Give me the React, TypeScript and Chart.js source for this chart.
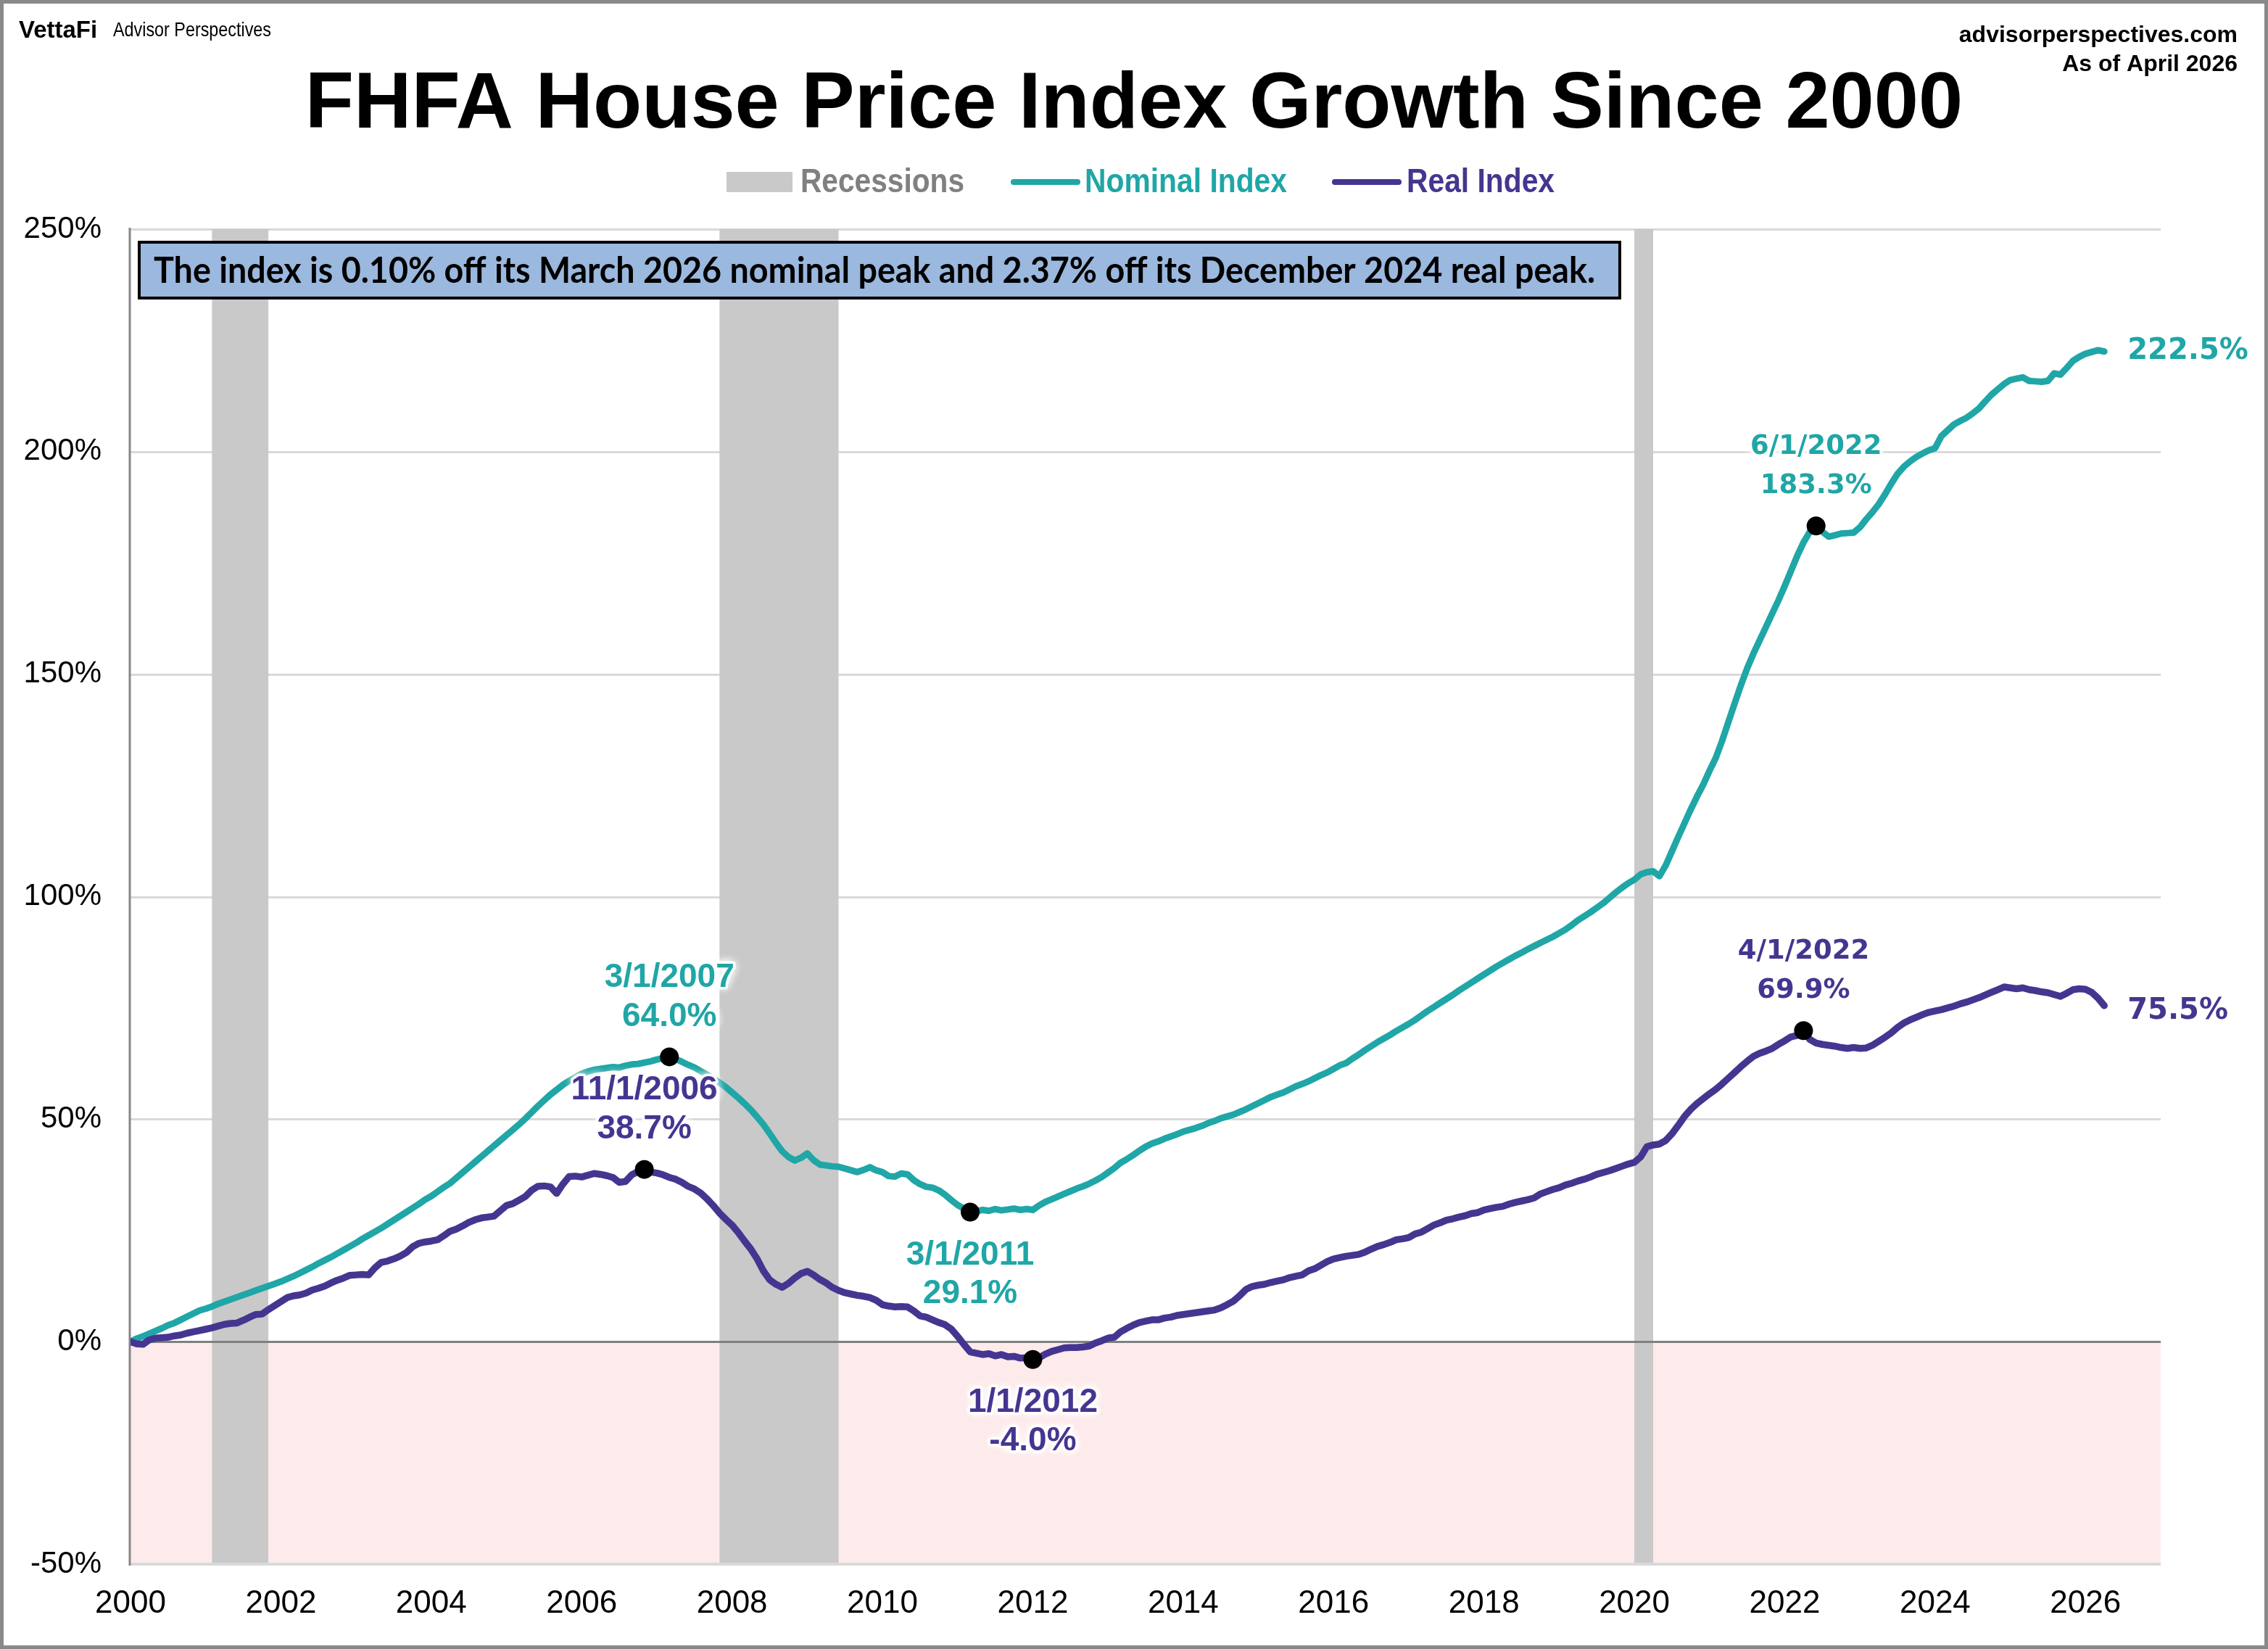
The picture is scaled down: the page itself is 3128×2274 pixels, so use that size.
import React, { useEffect, useRef } from 'react';
import { Chart, registerables } from 'chart.js';

Chart.register(...registerables);

const W = 3128;
const H = 2274;

const START_YEAR = 2000;

// Nominal FHFA HPI growth since Jan 2000 (%), monthly Jan 2000 .. Apr 2026
const nominalIndex: number[] = [
  // 2000
  0.0, 0.7, 1.2, 1.8, 2.4, 3.0, 3.7, 4.2, 4.9, 5.6, 6.3, 7.0,
  // 2001
  7.4, 7.9, 8.5, 9.0, 9.5, 10.0, 10.5, 11.0, 11.5, 12.0, 12.5, 13.0,
  // 2002
  13.5, 14.1, 14.7, 15.4, 16.1, 16.8, 17.6, 18.3, 19.0, 19.8, 20.6, 21.4,
  // 2003
  22.2, 23.1, 23.9, 24.7, 25.5, 26.4, 27.3, 28.2, 29.1, 30.0, 30.9, 31.9,
  // 2004
  32.7, 33.7, 34.7, 35.6, 36.8, 38.0, 39.2, 40.4, 41.6, 42.8, 44.0, 45.2,
  // 2005
  46.4, 47.6, 48.8, 50.1, 51.5, 52.9, 54.2, 55.5, 56.6, 57.7, 58.6, 59.4,
  // 2006
  60.2, 60.7, 61.1, 61.3, 61.5, 61.7, 61.6, 62.0, 62.3, 62.4, 62.7, 63.0,
  // 2007
  63.4, 63.7, 64.0, 63.5, 62.9, 62.2, 61.6, 60.8, 60.0, 59.1, 58.2, 57.2,
  // 2008
  56.0, 54.8, 53.5, 52.1, 50.5, 48.8, 46.8, 44.7, 42.8, 41.5, 40.7, 41.3,
  // 2009
  42.3, 40.8, 39.8, 39.6, 39.4, 39.3, 38.9, 38.5, 38.1, 38.6, 39.2, 38.5,
  // 2010
  38.1, 37.2, 37.1, 37.8, 37.6, 36.3, 35.4, 34.8, 34.6, 34.0, 33.0, 31.8,
  // 2011
  30.7, 29.9, 29.1, 29.3, 29.6, 29.4, 29.8, 29.5, 29.7, 29.9, 29.6, 29.8,
  // 2012
  29.6, 30.6, 31.4, 32.0, 32.6, 33.2, 33.8, 34.4, 34.9, 35.5, 36.2, 37.0,
  // 2013
  38.0, 39.0, 40.2, 41.0, 41.9, 42.9, 43.8, 44.5, 45.0, 45.6, 46.1, 46.6,
  // 2014
  47.2, 47.6, 48.0, 48.5, 49.1, 49.6, 50.2, 50.6, 51.0, 51.6, 52.2, 52.9,
  // 2015
  53.6, 54.3, 55.0, 55.5, 56.0, 56.7, 57.4, 57.9, 58.5, 59.2, 59.9, 60.5,
  // 2016
  61.3, 62.1, 62.6, 63.6, 64.5, 65.5, 66.4, 67.3, 68.1, 68.9, 69.8, 70.6,
  // 2017
  71.4, 72.3, 73.3, 74.3, 75.2, 76.1, 77.0, 77.9, 78.9, 79.8, 80.7, 81.6,
  // 2018
  82.5, 83.4, 84.3, 85.1, 85.9, 86.7, 87.4, 88.2, 88.9, 89.6, 90.3, 91.0,
  // 2019
  91.8, 92.6, 93.6, 94.7, 95.6, 96.5, 97.5, 98.5, 99.7, 100.9, 102.0, 103.0,
  // 2020
  103.8, 105.0, 105.5, 105.7, 104.6, 107.0, 110.2, 113.4, 116.5, 119.6, 122.5, 125.2,
  // 2021
  128.3, 131.2, 135.0, 139.2, 143.4, 147.5, 151.3, 154.6, 157.6, 160.6, 163.6, 166.6,
  // 2022
  169.8, 173.2, 176.6, 179.6, 182.0, 183.3, 182.0, 180.9, 181.2, 181.6, 181.7, 181.8,
  // 2023
  183.0, 184.8, 186.4, 188.2, 190.4, 192.8, 195.0, 196.6, 197.8, 198.8, 199.6, 200.3,
  // 2024
  200.8, 203.5, 204.8, 206.1, 206.9, 207.6, 208.6, 209.7, 211.3, 212.8, 214.0, 215.2,
  // 2025
  216.1, 216.4, 216.7, 215.9, 215.8, 215.7, 215.9, 217.6, 217.3, 218.8, 220.4, 221.3,
  // 2026
  222.0, 222.4, 222.8, 222.5,
];

// Real (inflation-adjusted) growth since Jan 2000 (%), monthly Jan 2000 .. Apr 2026
const realIndex: number[] = [
  // 2000
  0.0, -0.5, -0.6, 0.4, 0.8, 0.9, 1.0, 1.3, 1.5, 1.9, 2.2, 2.5,
  // 2001
  2.8, 3.1, 3.5, 3.9, 4.1, 4.2, 4.8, 5.5, 6.1, 6.2, 7.2, 8.1,
  // 2002
  9.0, 9.9, 10.3, 10.5, 10.9, 11.6, 12.0, 12.5, 13.2, 13.8, 14.3, 14.9,
  // 2003
  15.0, 15.1, 15.0, 16.6, 17.8, 18.1, 18.6, 19.2, 20.0, 21.3, 22.1, 22.4,
  // 2004
  22.6, 22.9, 23.8, 24.8, 25.3, 26.0, 26.8, 27.4, 27.8, 28.0, 28.2, 29.4,
  // 2005
  30.6, 31.0, 31.8, 32.6, 34.0, 34.9, 35.0, 34.8, 33.3, 35.4, 37.1, 37.2,
  // 2006
  37.0, 37.4, 37.8, 37.6, 37.3, 36.9, 35.8, 36.0, 37.5, 38.2, 38.7, 38.1,
  // 2007
  37.9, 37.5, 36.9, 36.5, 35.8, 34.9, 34.3, 33.4, 32.1, 30.6, 28.9, 27.5,
  // 2008
  26.2, 24.5, 22.6, 20.8, 18.6, 15.9, 13.9, 12.9, 12.2, 13.1, 14.3, 15.3,
  // 2009
  15.8, 15.0, 14.0, 13.2, 12.2, 11.5, 11.0, 10.7, 10.4, 10.2, 9.9, 9.3,
  // 2010
  8.3, 8.0, 7.8, 7.9, 7.8, 6.9, 5.8, 5.5, 4.9, 4.3, 3.8, 2.8,
  // 2011
  1.2, -0.6, -2.3, -2.6, -2.9, -2.7, -3.2, -2.9, -3.4, -3.3, -3.7, -3.6,
  // 2012
  -4.0, -3.6, -2.8, -2.2, -1.8, -1.4, -1.3, -1.3, -1.2, -1.0, -0.3, 0.2,
  // 2013
  0.8, 1.0, 2.2, 3.0, 3.7, 4.3, 4.6, 4.9, 4.9, 5.3, 5.5, 5.9,
  // 2014
  6.1, 6.3, 6.5, 6.7, 6.9, 7.1, 7.6, 8.3, 9.1, 10.3, 11.7, 12.4,
  // 2015
  12.7, 12.9, 13.3, 13.6, 13.9, 14.4, 14.7, 15.0, 15.9, 16.4, 17.2, 18.0,
  // 2016
  18.6, 18.9, 19.2, 19.4, 19.6, 20.1, 20.8, 21.4, 21.8, 22.3, 22.9, 23.1,
  // 2017
  23.4, 24.2, 24.6, 25.4, 26.2, 26.7, 27.3, 27.6, 28.0, 28.3, 28.8, 29.0,
  // 2018
  29.6, 29.9, 30.2, 30.4, 30.9, 31.3, 31.6, 31.9, 32.3, 33.2, 33.7, 34.2,
  // 2019
  34.6, 35.2, 35.6, 36.1, 36.5, 37.0, 37.6, 38.0, 38.4, 38.9, 39.4, 39.9,
  // 2020
  40.3, 41.5, 43.8, 44.2, 44.4, 45.2, 46.7, 48.6, 50.6, 52.2, 53.5, 54.6,
  // 2021
  55.7, 56.7, 57.9, 59.2, 60.5, 61.8, 63.0, 64.1, 64.8, 65.3, 65.9, 66.8,
  // 2022
  67.6, 68.5, 68.8, 69.9, 67.9, 67.1, 66.8, 66.6, 66.4, 66.1, 65.9, 66.1,
  // 2023
  65.9, 66.0, 66.6, 67.5, 68.4, 69.4, 70.6, 71.6, 72.3, 72.9, 73.5, 74.0,
  // 2024
  74.3, 74.6, 75.0, 75.4, 75.9, 76.3, 76.8, 77.3, 77.9, 78.5, 79.1, 79.7,
  // 2025
  79.5, 79.3, 79.5, 79.1, 78.9, 78.6, 78.4, 78.0, 77.6, 78.3, 79.1, 79.3,
  // 2026
  79.2, 78.5, 77.2, 75.5,
];

const yTickValues = [-50, 0, 50, 100, 150, 200, 250];
const xTickYears = [2000, 2002, 2004, 2006, 2008, 2010, 2012, 2014, 2016, 2018, 2020, 2022, 2024, 2026];
const X_MIN = 2000;
const X_MAX = 2027;

const recessionStarts = ['2001-02', '2007-11', '2020-01'];
const recessionEnds = ['2001-11', '2009-06', '2020-04'];

const annotationDates = ['3/1/2007', '11/1/2006', '3/1/2011', '1/1/2012', '6/1/2022', '4/1/2022'];
const annotationValues = [64.0, 38.7, 29.1, -4.0, 183.3, 69.9];
const annotationSeries = ['nominal', 'real', 'nominal', 'real', 'nominal', 'real'];
const annotationSide = ['above', 'above', 'below', 'below', 'above', 'above'];
const annotationFontKind = ['arial', 'arial', 'arial', 'arial', 'verdana', 'verdana'];

const TITLE = 'FHFA House Price Index Growth Since 2000';
const NOTE = 'The index is 0.10% off its March 2026 nominal peak and 2.37% off its December 2024 real peak.';
const SITE = 'advisorperspectives.com';
const ASOF = 'As of April 2026';

const TEAL = '#20a6a6';
const PURPLE = '#463590';
const PINK = '#fdebec';
const REC_GRAY = '#c9c9c9';
const GRID = '#d9d9d9';

const ARIAL = '"Liberation Sans", Arial, sans-serif';
const VERDANA = '"DejaVu Sans", Verdana, sans-serif';

const monthX = (s: string) => {
  const [y, m] = s.split('-').map(Number);
  return y + (m - 1) / 12;
};
const dateX = (s: string) => {
  const [m, , y] = s.split('/').map(Number);
  return y + (m - 1) / 12;
};
const seriesX = (i: number) => START_YEAR + i / 12;

function fitText(ctx: CanvasRenderingContext2D, text: string, x: number, y: number, font: string, color: string, width: number) {
  ctx.save();
  ctx.font = font;
  const w = ctx.measureText(text).width;
  ctx.translate(x, y);
  ctx.scale(width / w, 1);
  ctx.fillStyle = color;
  ctx.textAlign = 'left';
  ctx.textBaseline = 'middle';
  ctx.fillText(text, 0, 0);
  ctx.restore();
}

function haloText(ctx: CanvasRenderingContext2D, text: string, x: number, y: number, font: string, color: string) {
  ctx.save();
  ctx.font = font;
  ctx.textAlign = 'center';
  ctx.textBaseline = 'middle';
  ctx.shadowColor = 'rgba(255,255,255,1)';
  ctx.shadowBlur = 14;
  ctx.fillStyle = '#ffffff';
  for (let k = 0; k < 4; k++) ctx.fillText(text, x, y);
  ctx.shadowBlur = 0;
  ctx.shadowColor = 'rgba(0,0,0,0)';
  ctx.lineJoin = 'round';
  ctx.lineWidth = 7;
  ctx.strokeStyle = '#ffffff';
  ctx.strokeText(text, x, y);
  ctx.fillStyle = color;
  ctx.fillText(text, x, y);
  ctx.restore();
}

const decorPlugin = {
  id: 'decor',
  beforeDatasetsDraw(chart: any) {
    const { ctx, chartArea: a, scales } = chart;
    const x = scales.x;
    const y = scales.y;
    const y0 = y.getPixelForValue(0);
    const yMin = y.getPixelForValue(-50);
    ctx.save();
    ctx.fillStyle = PINK;
    ctx.fillRect(a.left, y0, a.right - a.left, yMin - y0);
    ctx.strokeStyle = GRID;
    ctx.lineWidth = 3;
    yTickValues.forEach((v) => {
      if (v <= 0) return;
      const py = Math.round(y.getPixelForValue(v)) + 0.5;
      ctx.beginPath();
      ctx.moveTo(a.left, py);
      ctx.lineTo(a.right, py);
      ctx.stroke();
    });
    ctx.fillStyle = REC_GRAY;
    recessionStarts.forEach((s, i) => {
      const x1 = x.getPixelForValue(monthX(s));
      const x2 = x.getPixelForValue(monthX(recessionEnds[i]));
      ctx.fillRect(x1, a.top, x2 - x1, a.bottom - a.top);
    });
    ctx.strokeStyle = GRID;
    ctx.lineWidth = 4;
    ctx.beginPath();
    ctx.moveTo(a.left, yMin);
    ctx.lineTo(a.right, yMin);
    ctx.stroke();
    ctx.strokeStyle = '#808080';
    ctx.lineWidth = 3;
    ctx.beginPath();
    ctx.moveTo(a.left, Math.round(y0) + 0.5);
    ctx.lineTo(a.right, Math.round(y0) + 0.5);
    ctx.stroke();
    ctx.strokeStyle = '#878787';
    ctx.lineWidth = 3;
    ctx.beginPath();
    ctx.moveTo(a.left - 1, a.top - 2);
    ctx.lineTo(a.left - 1, a.bottom + 2);
    ctx.stroke();
    ctx.restore();
  },
  afterDatasetsDraw(chart: any) {
    const { ctx } = chart;
    const markerMeta = chart.getDatasetMeta(0);
    annotationDates.forEach((d, i) => {
      const el = markerMeta.data[i];
      if (!el) return;
      const color = annotationSeries[i] === 'nominal' ? TEAL : PURPLE;
      const font = annotationFontKind[i] === 'arial' ? `bold 46px ${ARIAL}` : `bold 37px ${VERDANA}`;
      const valueText = `${annotationValues[i].toFixed(1)}%`;
      let y1: number;
      let y2: number;
      if (annotationSide[i] === 'above') {
        y1 = el.y - 109;
        y2 = el.y - 55;
      } else {
        y1 = el.y + 60;
        y2 = el.y + 113;
      }
      haloText(ctx, d, el.x, y1, font, color);
      haloText(ctx, valueText, el.x, y2, font, color);
    });
    const endSeries = [
      { meta: chart.getDatasetMeta(2), values: nominalIndex, color: TEAL, dy: 0 },
      { meta: chart.getDatasetMeta(1), values: realIndex, color: PURPLE, dy: 8 },
    ];
    endSeries.forEach((s) => {
      const last = s.meta.data[s.meta.data.length - 1];
      if (!last) return;
      ctx.save();
      ctx.font = `bold 40px ${VERDANA}`;
      ctx.fillStyle = s.color;
      ctx.textAlign = 'left';
      ctx.textBaseline = 'middle';
      ctx.fillText(`${s.values[s.values.length - 1].toFixed(1)}%`, last.x + 32, last.y + s.dy);
      ctx.restore();
    });
  },
  afterDraw(chart: any) {
    const { ctx } = chart;
    ctx.save();
    ctx.fillStyle = '#9bb8de';
    ctx.fillRect(192, 334, 2042, 77);
    ctx.strokeStyle = '#000000';
    ctx.lineWidth = 4;
    ctx.strokeRect(192, 334, 2042, 77);
    ctx.restore();
    fitText(ctx, NOTE, 212, 374, `bold 49px Lato, ${ARIAL}`, '#000000', 1988);

    ctx.save();
    ctx.font = `bold 110px ${ARIAL}`;
    ctx.fillStyle = '#000000';
    ctx.textAlign = 'center';
    ctx.textBaseline = 'alphabetic';
    ctx.fillText(TITLE, W / 2, 176);
    ctx.font = `bold 32px ${ARIAL}`;
    ctx.textAlign = 'right';
    ctx.fillText(SITE, 3086, 58);
    ctx.fillText(ASOF, 3086, 98);
    ctx.textAlign = 'left';
    ctx.font = `bold 33px ${ARIAL}`;
    ctx.fillText('VettaFi', 26, 52);
    ctx.restore();
    fitText(ctx, 'Advisor Perspectives', 156, 42, `28px ${ARIAL}`, '#000000', 218);

    ctx.save();
    ctx.fillStyle = REC_GRAY;
    ctx.fillRect(1002, 237, 91, 28);
    ctx.lineCap = 'round';
    ctx.lineWidth = 8;
    ctx.strokeStyle = TEAL;
    ctx.beginPath();
    ctx.moveTo(1398, 251);
    ctx.lineTo(1486, 251);
    ctx.stroke();
    ctx.strokeStyle = PURPLE;
    ctx.beginPath();
    ctx.moveTo(1841, 251);
    ctx.lineTo(1929, 251);
    ctx.stroke();
    ctx.restore();
    fitText(ctx, 'Recessions', 1104, 252, `bold 46px ${ARIAL}`, '#808080', 226);
    fitText(ctx, 'Nominal Index', 1496, 252, `bold 46px ${ARIAL}`, TEAL, 279);
    fitText(ctx, 'Real Index', 1940, 252, `bold 46px ${ARIAL}`, PURPLE, 204);

    ctx.save();
    ctx.strokeStyle = '#898989';
    ctx.lineWidth = 5;
    ctx.strokeRect(2.5, 2.5, W - 5, H - 5);
    ctx.restore();
  },
};

export default function App() {
  const canvasRef = useRef<HTMLCanvasElement | null>(null);

  useEffect(() => {
    document.body.style.margin = '0';
    const canvas = canvasRef.current;
    if (!canvas) return;

    const nominalPoints = nominalIndex.map((v, i) => ({ x: seriesX(i), y: v }));
    const realPoints = realIndex.map((v, i) => ({ x: seriesX(i), y: v }));
    const markerPoints = annotationDates.map((d, i) => ({ x: dateX(d), y: annotationValues[i] }));

    const chart = new Chart(canvas, {
      type: 'line',
      data: {
        datasets: [
          {
            label: 'Peaks and troughs',
            data: markerPoints,
            showLine: false,
            pointRadius: 13,
            pointHoverRadius: 13,
            pointBackgroundColor: '#000000',
            pointBorderWidth: 0,
            borderColor: '#000000',
            order: 0,
          },
          {
            label: 'Real Index',
            data: realPoints,
            borderColor: PURPLE,
            backgroundColor: PURPLE,
            borderWidth: 9.5,
            pointRadius: 0,
            tension: 0,
            borderJoinStyle: 'round',
            borderCapStyle: 'round',
            order: 1,
          },
          {
            label: 'Nominal Index',
            data: nominalPoints,
            borderColor: TEAL,
            backgroundColor: TEAL,
            borderWidth: 9,
            pointRadius: 0,
            tension: 0,
            borderJoinStyle: 'round',
            borderCapStyle: 'round',
            order: 2,
          },
        ],
      },
      options: {
        responsive: false,
        animation: false,
        devicePixelRatio: 1,
        layout: { padding: { left: 0, right: 148, top: 316, bottom: 0 } },
        plugins: {
          legend: { display: false },
          title: { display: false },
          tooltip: { enabled: false },
        },
        scales: {
          x: {
            type: 'linear',
            min: X_MIN,
            max: X_MAX,
            grid: { display: false, drawTicks: false, tickLength: 0 },
            border: { display: false },
            afterBuildTicks: (s: any) => {
              s.ticks = xTickYears.map((v) => ({ value: v }));
            },
            afterFit: (s: any) => {
              s.height = 117;
            },
            ticks: {
              autoSkip: false,
              maxRotation: 0,
              minRotation: 0,
              padding: 28,
              color: '#000000',
              font: { size: 44, family: ARIAL },
              callback: (v: any) => String(v),
            },
          },
          y: {
            type: 'linear',
            min: -50,
            max: 250,
            grid: { display: false, drawTicks: false, tickLength: 0 },
            border: { display: false },
            afterBuildTicks: (s: any) => {
              s.ticks = yTickValues.map((v) => ({ value: v }));
            },
            afterFit: (s: any) => {
              s.width = 180;
            },
            ticks: {
              padding: 40,
              color: '#000000',
              font: { size: 42, family: ARIAL },
              callback: (v: any) => `${v}%`,
            },
          },
        },
      },
      plugins: [decorPlugin],
    });

    return () => chart.destroy();
  }, []);

  return (
    <div style={{ width: W, height: H, background: '#ffffff' }}>
      <canvas ref={canvasRef} width={W} height={H} style={{ width: W, height: H, display: 'block' }} />
    </div>
  );
}
